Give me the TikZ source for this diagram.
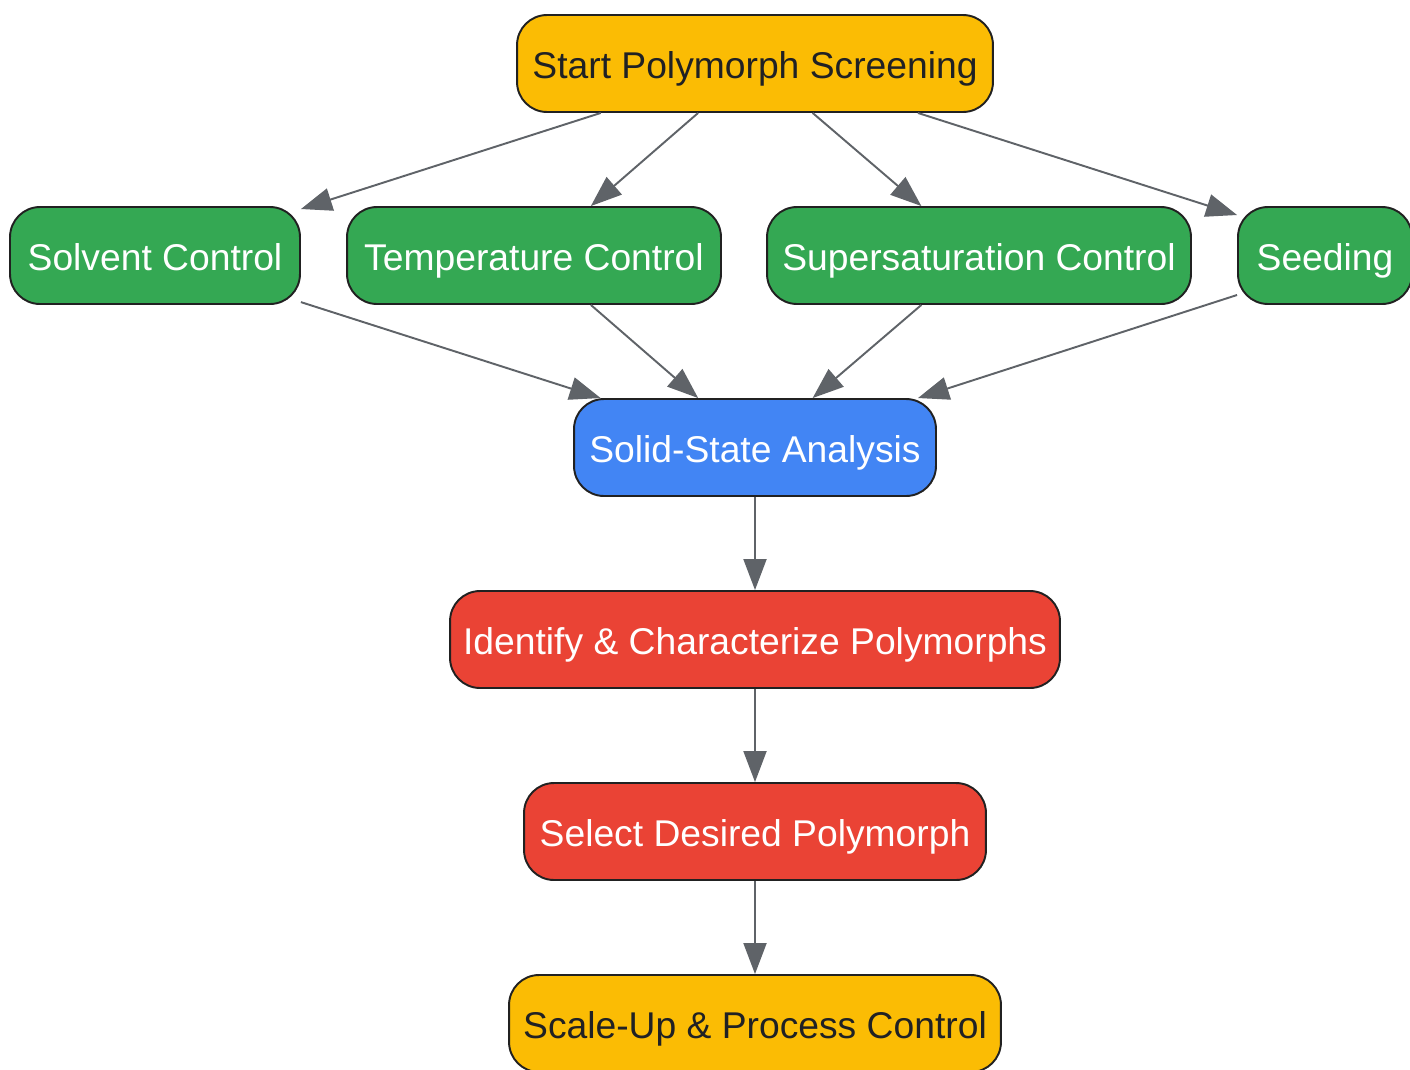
\documentclass[tikz,border=0pt]{standalone}
\usepackage{fontspec}
\setmainfont{Liberation Sans}
\usetikzlibrary{arrows.meta}
\begin{document}
\begin{tikzpicture}[x=0.02cm,y=-0.02cm]
\tikzset{etape/.style = {draw           = black!87,
                         line width     = 1.1pt,
                         rounded corners= 0.6cm,
                         text           = white,
                         minimum height = 1.94cm,
                         text height    = 0.6cm,
                         text depth     = 0cm,
                         inner sep      = 0pt,
                         font           = \fontsize{21.2}{25}\selectfont},
         fleche/.style = {draw           = col5,
                         line width     = 1.1pt,
                         -{Triangle[length=0.62cm,width=0.46cm]}}}
\definecolor{col1}{HTML}{FBBC04}
\definecolor{col2}{HTML}{34A853}
\definecolor{col3}{HTML}{4285F4}
\definecolor{col4}{HTML}{EA4335}
\definecolor{col5}{HTML}{5F6368}
\definecolor{col6}{HTML}{202124}
\useasboundingbox (0,0) rectangle (1410,1069);
\node[etape,fill=col1,text=col6,minimum width=9.52cm] (debut) at (755,63.5) {Start Polymorph Screening};
\node[etape,fill=col2,minimum width=5.8cm]  (solv)  at (155,255.5)  {Solvent Control};
\node[etape,fill=col2,minimum width=7.48cm] (temp)  at (534,255.5)  {Temperature Control};
\node[etape,fill=col2,minimum width=8.48cm] (sursat) at (979,255.5) {Supersaturation Control};
\node[etape,fill=col2,minimum width=3.48cm] (germe) at (1325,255.5) {Seeding};
\node[etape,fill=col3,minimum width=7.24cm] (analyse) at (755,447.5) {Solid-State Analysis};
\node[etape,fill=col4,minimum width=12.2cm] (ident) at (755,639.5) {Identify \& Characterize Polymorphs};
\node[etape,fill=col4,minimum width=9.24cm] (choix) at (755,831.5) {Select Desired Polymorph};
\node[etape,fill=col1,text=col6,minimum width=9.84cm] (echelle) at (755,1023.5) {Scale-Up \& Process Control};
\draw[fleche] (debut) -- (solv);
\draw[fleche] (debut) -- (temp);
\draw[fleche] (debut) -- (sursat);
\draw[fleche] ([xshift=3.26cm]debut.south) -- ([yshift=0.81cm]germe.west);
\draw[fleche] (solv) -- (analyse);
\draw[fleche] (temp) -- (analyse);
\draw[fleche] (sursat) -- (analyse);
\draw[fleche] ([yshift=-0.79cm]germe.west) -- ([xshift=3.26cm]analyse.north);
\draw[fleche] (analyse) -- (ident);
\draw[fleche] (ident) -- (choix);
\draw[fleche] (choix) -- (echelle);
\end{tikzpicture}
\end{document}
